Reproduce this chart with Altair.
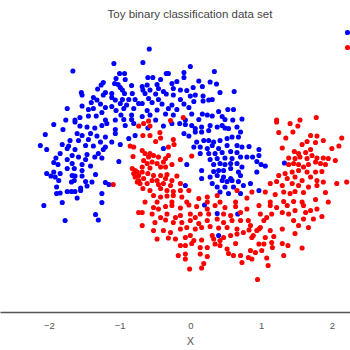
import altair as alt
import pandas as pd

title_text = "Toy binary classification data set"
x_ticks = [-2, -1, 0, 1, 2]
class_names = ["0", "1"]
class_colors = ["#0000ff", "#ff0000"]

# class 0 (blue) points
blue = [
    (-1.08, 2.03), (-1.66, 1.88), (-1.00, 1.83), (-0.93, 1.83), (-1.05, 1.73), (-0.92, 1.71), (-1.23, 1.65),
    (-1.26, 1.60), (-1.07, 1.63), (-1.02, 1.61), (-0.83, 1.59), (-0.99, 1.55), (-0.96, 1.50), (-1.31, 1.52),
    (-1.54, 1.45), (-1.53, 1.40), (-1.20, 1.45), (-1.23, 1.40), (-1.11, 1.43), (-0.93, 1.43), (-0.82, 1.43),
    (-1.37, 1.35), (-1.11, 1.35), (-1.06, 1.30), (-0.96, 1.31), (-0.87, 1.31), (-0.78, 1.31), (-0.73, 1.23),
    (-1.32, 1.30), (-1.40, 1.25), (-1.27, 1.22), (-0.99, 1.23), (-0.90, 1.20), (-1.53, 1.18), (-1.74, 1.13),
    (-1.44, 1.11), (-1.37, 1.13), (-1.20, 1.15), (-1.11, 1.17), (-0.94, 1.13), (-0.80, 1.13), (-1.05, 1.09),
    (-1.25, 1.05), (-1.44, 0.98), (-1.33, 0.98), (-0.98, 1.00), (-0.83, 1.00), (-1.76, 0.90), (-1.63, 0.90),
    (-1.56, 0.95), (-1.20, 0.90), (-1.06, 0.90), (-0.94, 0.91), (-0.83, 0.91),
    (-0.58, 2.32), (-0.67, 2.05), (0.00, 1.97), (0.34, 1.87), (-0.34, 1.83), (-0.31, 1.83), (-0.09, 1.85),
    (-0.09, 1.75), (-0.60, 1.75), (-0.53, 1.75), (-0.42, 1.71), (0.12, 1.68), (0.28, 1.66), (0.37, 1.62),
    (-0.19, 1.67), (-0.26, 1.63), (-0.61, 1.60), (-0.47, 1.61), (-0.45, 1.53), (-0.68, 1.57), (-0.67, 1.50),
    (-0.57, 1.50), (-0.38, 1.47), (-0.24, 1.53), (-0.14, 1.50), (-0.05, 1.49), (0.04, 1.55), (0.17, 1.57),
    (0.42, 1.45), (0.62, 1.47), (-0.64, 1.43), (-0.49, 1.42), (-0.34, 1.42), (-0.24, 1.40), (0.00, 1.38),
    (0.07, 1.40), (0.18, 1.38), (-0.59, 1.33), (-0.45, 1.31), (-0.14, 1.31), (0.05, 1.27), (0.18, 1.28),
    (0.26, 1.30), (0.31, 1.31), (-0.68, 1.23), (-0.54, 1.25), (-0.40, 1.22), (-0.26, 1.20), (-0.09, 1.22),
    (-0.31, 1.13), (-0.19, 1.11), (-0.02, 1.15), (-0.61, 1.09), (-0.47, 1.10), (0.53, 1.11), (0.61, 1.11),
    (0.40, 1.07), (-0.57, 1.00), (-0.35, 1.02), (-0.24, 1.00), (0.02, 1.02), (0.17, 1.02), (0.24, 1.00),
    (0.31, 0.98), (0.45, 0.97), (-0.68, 0.97), (-0.49, 0.90), (-0.07, 0.90), (0.12, 0.91), (0.49, 0.91),
    (0.60, 0.90), (0.73, 0.92),
    (-1.93, 0.81), (-1.80, 0.71), (-1.63, 0.86), (-1.56, 0.78), (-1.46, 0.76), (-1.35, 0.74), (-1.25, 0.79),
    (-1.18, 0.83), (-1.06, 0.71), (-0.92, 0.79), (-0.80, 0.83), (-2.05, 0.61), (-1.60, 0.63), (-1.53, 0.59),
    (-1.41, 0.63), (-1.32, 0.58), (-1.20, 0.56), (-1.06, 0.63), (-0.78, 0.59), (-0.87, 0.53), (-1.70, 0.49),
    (-1.58, 0.49), (-1.44, 0.51), (-1.27, 0.46), (-1.11, 0.46), (-1.81, 0.41), (-1.72, 0.38), (-1.48, 0.39),
    (-1.37, 0.38), (-1.20, 0.36), (-2.12, 0.39), (-0.99, 0.41), (-2.03, 0.31), (-1.74, 0.33), (-1.63, 0.31),
    (-1.23, 0.31), (-1.30, 0.23), (-1.84, 0.23), (-1.67, 0.19), (-1.46, 0.21), (-1.58, 0.16), (-1.35, 0.16),
    (-1.25, 0.14), (-1.01, 0.07), (-1.90, 0.14), (-1.74, 0.11), (-1.48, 0.11), (-1.93, 0.05), (-1.87, 0.01),
    (-1.67, 0.03), (-1.53, 0.01), (-1.41, -0.02), (-1.74, -0.07), (-1.64, -0.07), (-1.53, -0.11), (-2.03, -0.17),
    (-1.93, -0.14), (-1.84, -0.17), (-1.97, -0.22), (-1.91, -0.24), (-1.67, -0.21), (-1.63, -0.22), (-1.53, -0.22),
    (-1.34, -0.19), (-1.86, -0.31), (-1.64, -0.31), (-1.48, -0.33), (-1.39, -0.34), (-1.68, -0.34), (-1.20, -0.35),
    (-1.15, -0.39), (-1.89, -0.44), (-1.55, -0.46), (-1.46, -0.42), (-1.74, -0.53), (-1.68, -0.53), (-1.63, -0.53),
    (-1.55, -0.51), (-1.89, -0.57), (-1.84, -0.56), (-1.25, -0.57), (-1.60, -0.66), (-1.81, -0.75), (-1.25, -0.75),
    (-0.60, 0.74), (-0.38, 0.78), (-0.26, 0.83), (-0.15, 0.83), (-0.07, 0.81), (0.02, 0.79), (0.07, 0.73),
    (0.16, 0.76), (0.28, 0.79), (0.38, 0.76), (0.49, 0.74), (0.66, 0.76), (0.71, 0.66), (-0.09, 0.63),
    (-0.02, 0.58), (0.07, 0.66), (0.16, 0.66), (0.26, 0.69), (0.45, 0.79), (0.54, 0.73), (0.68, 0.56),
    (0.09, 0.46), (0.19, 0.49), (0.26, 0.49), (0.33, 0.46), (0.42, 0.49), (0.52, 0.53), (0.59, 0.56),
    (0.05, 0.36), (0.14, 0.36), (0.24, 0.33), (0.31, 0.39), (0.40, 0.33), (0.52, 0.39), (0.66, 0.39),
    (0.73, 0.36), (0.14, 0.23), (0.26, 0.23), (0.35, 0.23), (0.45, 0.25), (0.57, 0.27), (0.66, 0.25),
    (0.28, 0.11), (0.38, 0.13), (0.49, 0.14), (0.59, 0.13), (0.71, 0.16), (-0.05, 0.01), (0.33, 0.01),
    (0.42, 0.03), (0.49, 0.01), (0.57, 0.03), (0.66, 0.03), (0.73, -0.04), (0.16, -0.11), (0.33, -0.13),
    (0.40, -0.11), (0.47, -0.11), (0.57, -0.07), (0.68, -0.14), (0.28, -0.24), (0.38, -0.21), (0.47, -0.24),
    (0.57, -0.27), (0.71, -0.21), (0.31, -0.37), (0.45, -0.31), (0.52, -0.33), (0.59, -0.31), (0.68, -0.33),
    (-0.07, -0.41), (0.38, -0.44), (0.49, -0.44), (0.61, -0.44), (0.75, -0.41), (0.42, -0.54), (0.54, -0.57),
    (0.71, -0.57), (0.16, -0.27), (-0.38, 0.33),
    (0.83, 0.37), (0.97, 0.31), (0.80, 0.16), (0.88, 0.16), (0.97, 0.19), (0.94, 0.07), (1.00, 0.01),
    (1.06, -0.02), (0.94, -0.14), (0.85, -0.37), (0.97, -0.51), (1.33, 0.04),
    (-2.07, -0.81), (-1.34, -0.99), (-1.30, -1.10), (-1.77, -1.11),
    (0.20, -0.80), (0.38, -0.97), (0.67, -0.98), (0.40, -1.41),
]

# class 1 (red) points
red = [
    (-0.28, 0.89), (-0.10, 0.95), (-0.59, 0.88), (1.22, 0.90), (1.55, 0.90), (1.78, 0.95),
    (-1.09, -0.39), (-0.85, 0.38), (-0.80, 0.36), (-0.81, 0.17), (-0.73, 0.78), (-0.82, -0.07), (-0.78, -0.11),
    (-0.75, -0.14), (-0.80, -0.17), (-0.73, -0.21), (-0.78, -0.24), (-0.73, -0.31), (-0.75, -0.34), (-0.71, -0.37),
    (-0.66, 0.83), (-0.57, 0.78), (-0.67, 0.59), (-0.57, 0.59), (-0.43, 0.65), (-0.42, 0.54), (-0.49, 0.47),
    (-0.24, 0.51), (-0.23, 0.41), (-0.31, 0.36), (-0.68, 0.29), (-0.64, 0.23), (-0.57, 0.23), (-0.59, 0.16),
    (-0.52, 0.19), (-0.45, 0.16), (-0.35, 0.13), (-0.31, 0.19), (-0.66, 0.09), (-0.61, 0.03), (-0.54, 0.06),
    (-0.47, 0.03), (-0.38, 0.06), (-0.68, -0.04), (-0.57, -0.06), (-0.42, -0.04), (-0.35, -0.04), (-0.26, 0.01),
    (-0.14, 0.11), (0.02, 0.18), (-0.68, -0.14), (-0.60, -0.17), (-0.52, -0.21), (-0.42, -0.21), (-0.33, -0.19),
    (-0.66, -0.27), (-0.54, -0.31), (-0.47, -0.31), (-0.35, -0.27), (-0.26, -0.31), (-0.19, -0.22), (-0.61, -0.37),
    (-0.45, -0.39), (-0.38, -0.37), (-0.28, -0.41), (-0.14, -0.37), (-0.67, -0.47), (-0.57, -0.51), (-0.42, -0.47),
    (-0.33, -0.51), (-0.24, -0.53), (-0.14, -0.51), (-0.02, -0.51), (-0.52, -0.61), (-0.42, -0.64), (-0.33, -0.62),
    (-0.24, -0.61), (-0.12, -0.64), (0.12, -0.67), (0.24, -0.64), (0.38, -0.61), (-0.64, -0.74), (-0.47, -0.74),
    (-0.26, -0.74), (-0.05, -0.74), (0.24, -0.74), (0.42, -0.74), (0.64, -0.74), (0.66, -0.51),
    (1.22, 0.86), (1.41, 0.83), (1.52, 0.78), (1.25, 0.65), (1.35, 0.54), (1.45, 0.66), (1.70, 0.59),
    (1.79, 0.58), (2.14, 0.54), (1.65, 0.47), (1.58, 0.41), (1.77, 0.45), (1.88, 0.49), (2.00, 0.33),
    (2.10, 0.38), (1.30, 0.34), (1.47, 0.27), (1.53, 0.23), (1.63, 0.25), (1.70, 0.31), (1.39, 0.14),
    (1.48, 0.13), (1.55, 0.16), (1.65, 0.13), (1.72, 0.19), (1.79, 0.14), (1.88, 0.14), (1.95, 0.13),
    (2.05, 0.09), (1.77, 0.06), (1.84, 0.03), (1.91, 0.01), (1.39, 0.01), (1.46, 0.03), (1.53, 0.01),
    (1.60, -0.04), (1.67, 0.01), (1.34, -0.17), (1.44, -0.14), (1.53, -0.11), (1.65, -0.14), (1.77, -0.14),
    (1.86, -0.13), (1.25, -0.21), (1.37, -0.27), (1.48, -0.24), (1.58, -0.31), (1.70, -0.24), (1.79, -0.31),
    (1.88, -0.34), (1.22, -0.33), (1.13, -0.37), (1.30, -0.41), (1.44, -0.37), (1.53, -0.41), (1.67, -0.44),
    (1.79, -0.41), (2.07, -0.37), (2.21, -0.34), (0.87, -0.54), (1.06, -0.54), (1.20, -0.59), (1.32, -0.54),
    (1.41, -0.57), (1.48, -0.53), (1.60, -0.55), (1.91, -0.55), (1.13, -0.74), (1.32, -0.73), (1.46, -0.73),
    (1.58, -0.74), (1.77, -0.69), (1.95, -0.74), (0.80, -0.66),
    (-0.73, -0.95),
    (-0.52, -0.85), (-0.45, -0.88), (-0.35, -0.83), (-0.26, -0.81), (-0.14, -0.86), (-0.02, -0.80), (0.09, -0.83),
    (0.24, -0.88), (0.35, -0.81), (0.49, -0.85), (0.64, -0.83), (0.71, -0.95), (-0.68, -0.95), (-0.54, -0.98),
    (-0.42, -1.05), (-0.33, -0.98), (-0.21, -1.05), (-0.14, -1.01), (0.00, -0.98), (0.07, -1.05), (0.14, -0.98),
    (0.26, -0.98), (0.47, -0.98), (0.57, -1.01), (-0.50, -1.15), (-0.35, -1.10), (-0.24, -1.15), (-0.12, -1.15),
    (0.00, -1.11), (0.12, -1.17), (0.24, -1.11), (0.38, -1.08), (0.47, -1.15), (0.59, -1.11), (0.71, -1.11),
    (-0.68, -1.21), (-0.52, -1.31), (-0.38, -1.31), (-0.28, -1.35), (-0.14, -1.28), (-0.05, -1.25), (0.07, -1.28),
    (0.16, -1.25), (0.28, -1.23), (0.40, -1.26), (0.52, -1.25), (0.66, -1.28), (-0.47, -1.48), (-0.31, -1.46),
    (-0.21, -1.48), (-0.07, -1.45), (0.00, -1.41), (0.05, -1.51), (0.16, -1.50), (0.31, -1.41), (0.33, -1.48),
    (0.42, -1.51), (0.47, -1.45), (0.57, -1.41), (0.66, -1.38), (0.75, -1.35), (-0.14, -1.61), (-0.07, -1.61),
    (0.02, -1.57), (0.14, -1.65), (0.24, -1.65), (0.35, -1.58), (0.42, -1.61), (0.52, -1.68), (0.64, -1.57),
    (-0.17, -1.81), (-0.07, -1.78), (-0.07, -1.88), (0.14, -1.78), (0.24, -1.83), (0.54, -1.77), (0.61, -1.81),
    (0.71, -1.81), (0.73, -1.95), (0.19, -1.97), (0.16, -2.06), (-0.01, -2.08),
    (0.80, -0.88), (0.82, -1.11), (0.85, -1.21), (0.83, -1.30), (0.97, -0.81), (0.99, -0.98), (1.04, -1.11),
    (1.08, -1.05), (1.13, -0.81), (1.15, -0.98), (1.22, -0.85), (1.30, -0.95), (1.37, -0.81), (1.39, -0.98),
    (1.48, -0.91), (1.60, -0.81), (1.63, -0.95), (1.70, -0.91), (1.79, -0.88), (1.86, -1.03), (1.74, -1.08),
    (1.60, -1.08), (1.46, -1.11), (1.53, -1.21), (1.67, -1.25), (1.30, -1.28), (1.13, -1.31), (1.18, -1.43),
    (1.06, -1.45), (0.97, -1.28), (0.99, -1.25), (0.94, -1.31), (0.89, -1.41), (0.87, -1.45), (0.97, -1.58),
    (1.04, -1.58), (1.15, -1.55), (1.16, -1.65), (1.30, -1.57), (1.38, -1.61), (0.85, -1.71), (0.92, -1.75),
    (1.01, -1.71), (0.82, -1.85), (0.87, -1.88), (1.08, -1.86), (1.10, -2.01), (1.32, -1.81), (1.58, -1.66),
    (1.48, -1.37), (0.95, -2.29),
]

rows = [{"x": x, "y": y, "label": class_names[0]} for x, y in blue]
rows += [{"x": x, "y": y, "label": class_names[1]} for x, y in red]
df = pd.DataFrame(rows)

chart = (
    alt.Chart(df)
    .mark_circle(size=26, opacity=1)
    .encode(
        x=alt.X(
            "x:Q",
            scale=alt.Scale(domain=[-2.69, 2.257], nice=False, zero=False),
            axis=alt.Axis(
                values=x_ticks, format="d", title="X", ticks=False, grid=False,
                domainColor="#555555", domainWidth=1.5, labelColor="#555555",
                labelFontSize=9.5, labelPadding=8, labelFont="Liberation Sans",
                titleColor="#555555", titleFontSize=11, titleFontWeight="normal",
                titleFont="Liberation Sans", titlePadding=6, titleX=190,
            ),
        ),
        y=alt.Y("y:Q", scale=alt.Scale(domain=[-2.94, 2.8], nice=False, zero=False), axis=None),
        color=alt.Color(
            "label:N",
            scale=alt.Scale(domain=class_names, range=class_colors),
            legend=alt.Legend(
                orient="none", legendX=342, legendY=2, title=None, padding=0,
                symbolSize=26, symbolType="circle", labelFontSize=11, rowPadding=3,
                labelOffset=8,
            ),
        ),
    )
    .properties(
        width=350, height=287,
        title=alt.TitleParams(
            title_text, fontSize=11.5, font="Liberation Sans", fontWeight="normal",
            color="#444444", anchor="middle", offset=9, baseline="alphabetic", dx=15, dy=13,
        ),
        autosize=alt.AutoSizeParams(type="none"),
        padding={"left": 0, "top": 25, "right": 0, "bottom": 38},
    )
    .configure_view(stroke=None)
)

chart.save("out.html", embed_options={"renderer": "svg", "actions": False})
